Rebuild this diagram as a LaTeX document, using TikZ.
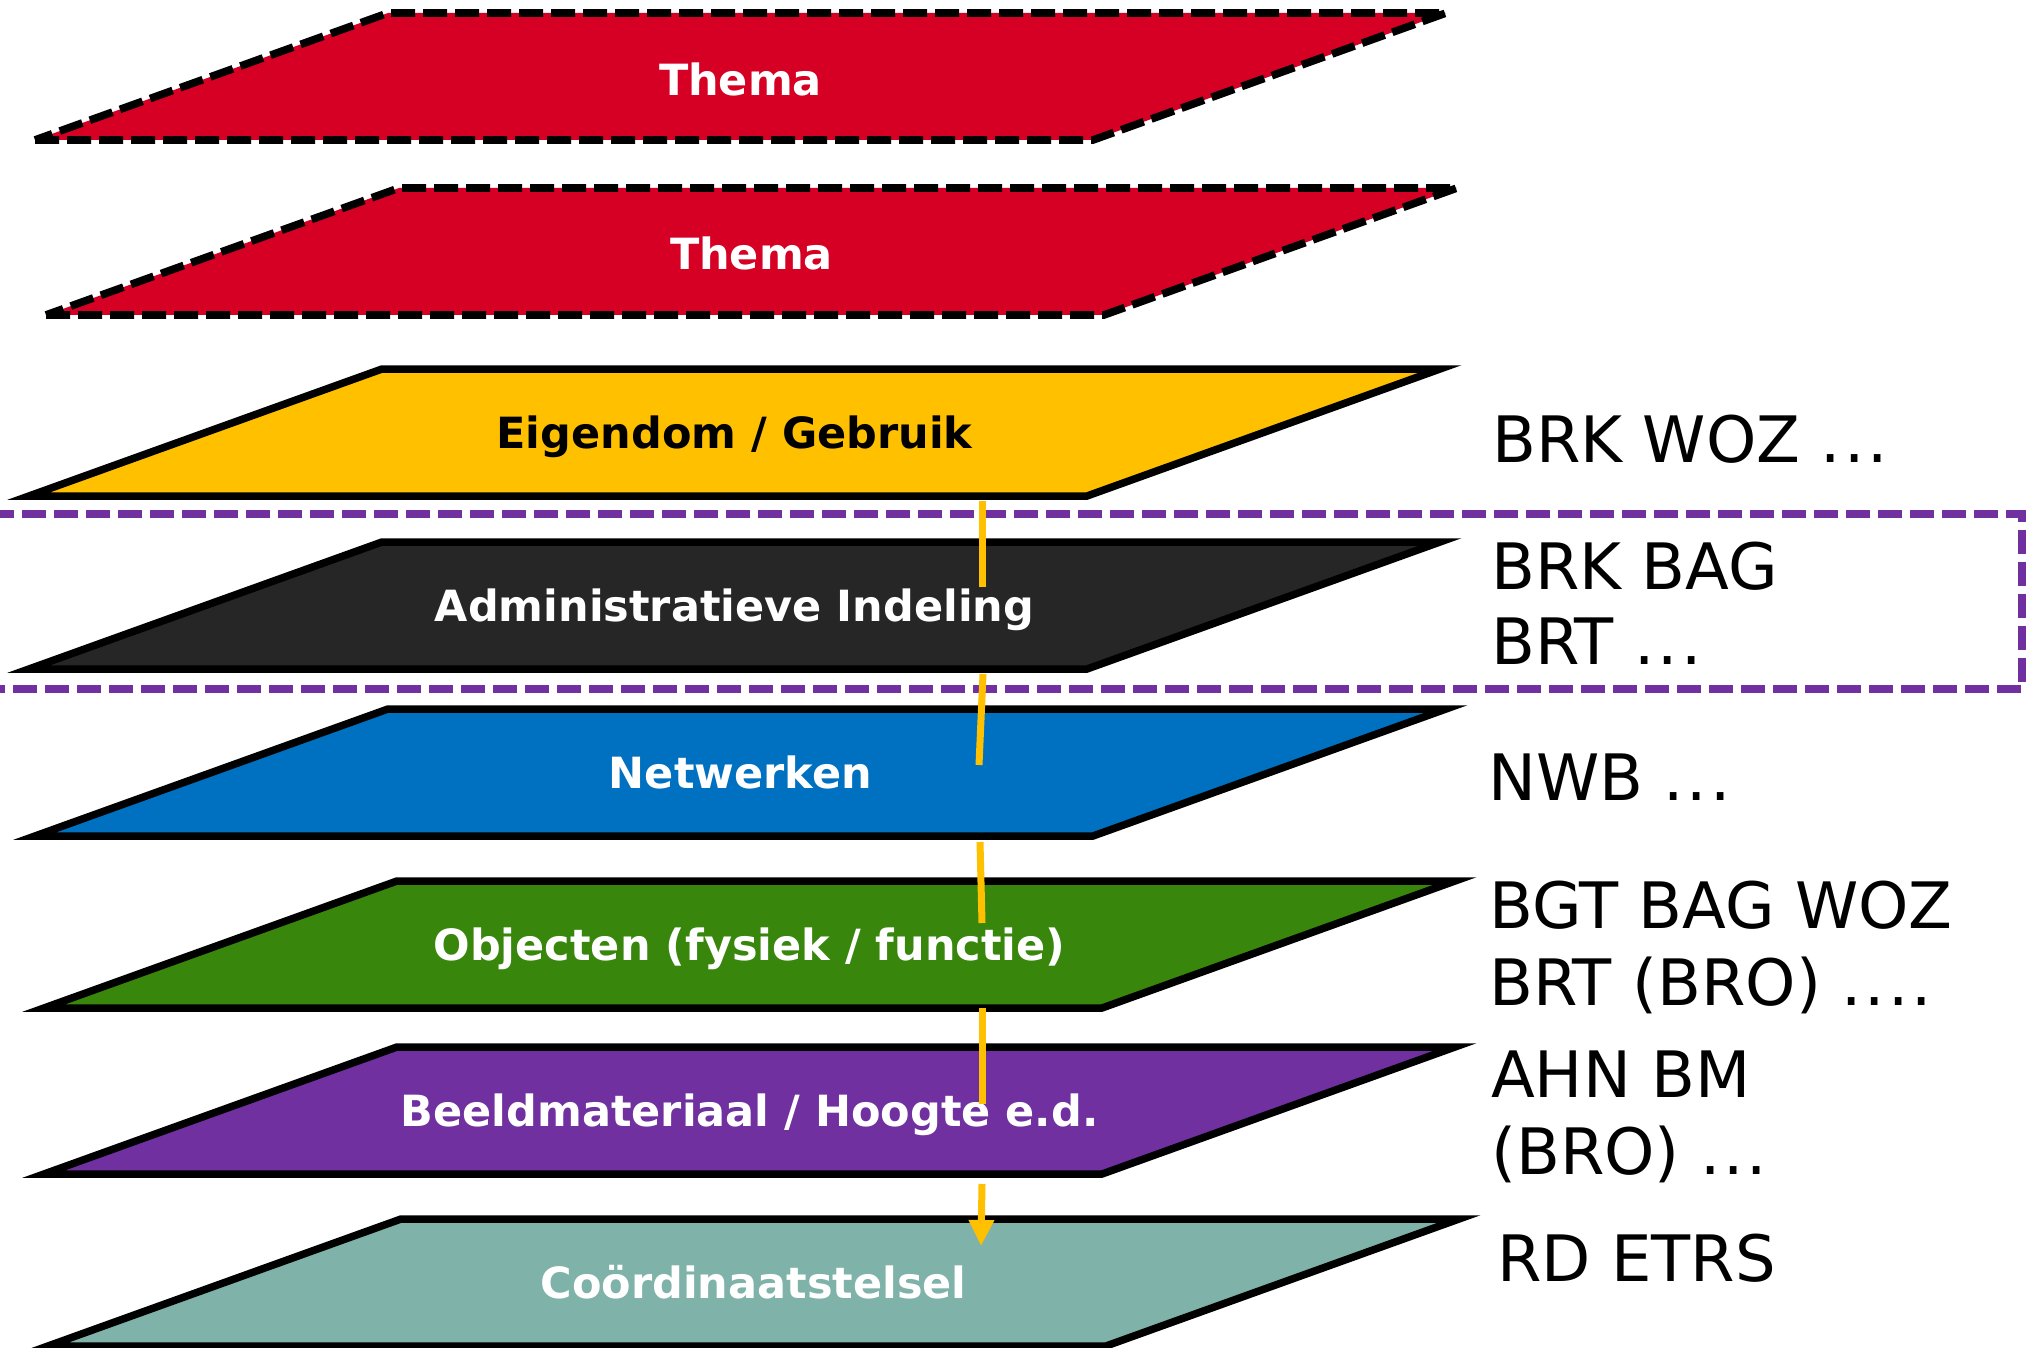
\documentclass[tikz,border=0pt]{standalone}
\usepackage{fontspec}
\setmainfont{DejaVu Sans}
\usetikzlibrary{arrows.meta}
\definecolor{themared}{HTML}{D50024}
\definecolor{eigyellow}{HTML}{FFC000}
\definecolor{admdark}{HTML}{262626}
\definecolor{netblue}{HTML}{0070C0}
\definecolor{objgreen}{HTML}{38870C}
\definecolor{beeldpurple}{HTML}{7030A0}
\definecolor{coordteal}{HTML}{7FB2A8}
\definecolor{arroworange}{HTML}{FFC000}
\definecolor{boxpurple}{HTML}{7030A0}
\newcommand{\dd}{.\kern3pt}
\tikzset{
  solidlayer/.style={draw=black, line width=7.5pt, line join=miter},
  themalayer/.style={fill=themared, draw=black, line width=7.7pt, line join=miter,
    dash pattern=on 24pt off 8pt},
  layerlabel/.style={anchor=base, font=\fontsize{43}{50}\selectfont\bfseries, inner sep=0pt},
  sidetext/.style={anchor=base west, font=\fontsize{64}{77}\selectfont, inner sep=0pt, text=black},
  orangeline/.style={draw=arroworange, line width=7pt},
  purpledash/.style={draw=boxpurple, line width=8pt, dash pattern=on 24pt off 8pt}
}
% #1 name, #2 xTL, #3 yTop, #4 shape style, #5 label colour, #6 label, #7 label shift
\newcommand{\drawlayer}[7]{%
  \path[#4] (#2-353,#3+127) -- (#2+705,#3+127) -- (#2+1058,#3) -- (#2,#3) -- cycle;
  \node[layerlabel, text=#5] (#1) at (#2+352.5,#3+63.5+15.3+#7) {#6};
}
\begin{document}
\begin{tikzpicture}[x=1pt,y=-1pt]
\useasboundingbox (0,0) rectangle (2029,1348);
\fill[white] (0,0) rectangle (2029,1348);

% purple dashed box (open on the left)
\draw[purpledash] (-10,514) -- (2022,514) -- (2022,689) -- (-10,689);

\drawlayer{thema1}{388}{13}{themalayer}{white}{Thema}{4}
\drawlayer{thema2}{399}{188}{themalayer}{white}{Thema}{3}
\drawlayer{eigendom}{382}{369}{solidlayer, fill=eigyellow}{black}{Eigendom / Gebruik}{1}
\drawlayer{admin}{382}{542}{solidlayer, fill=admdark}{white}{Administratieve Indeling}{1}
\drawlayer{netwerk}{388}{709}{solidlayer, fill=netblue}{white}{Netwerken}{1}
\drawlayer{objecten}{397}{881}{solidlayer, fill=objgreen}{white}{Objecten (fysiek / functie)}{1}
\drawlayer{beeld}{397}{1047}{solidlayer, fill=beeldpurple}{white}{Beeldmateriaal / Hoogte e.d.}{1}
\drawlayer{coord}{401}{1219}{solidlayer, fill=coordteal}{white}{Coördinaatstelsel}{1}

% orange connector, passing through the layers
\coordinate (o1a) at (982,501);  \coordinate (o1b) at (982,587);
\coordinate (o2a) at (983,674);  \coordinate (o2b) at (979,765);
\coordinate (o3a) at (980,842);  \coordinate (o3b) at (982,923);
\coordinate (o4a) at (982,1008); \coordinate (o4b) at (982,1104);
\coordinate (o5a) at (982,1184); \coordinate (o5b) at (981,1246);
\draw[orangeline] (o1a) -- (o1b);
\draw[orangeline] (o2a) -- (o2b);
\draw[orangeline] (o3a) -- (o3b);
\draw[orangeline] (o4a) -- (o4b);
\draw[orangeline, -{Triangle[length=26pt,width=24pt]}] (o5a) -- (o5b);

% side texts
\node[sidetext] (t1) at (1492,462) {BRK WOZ \dd\dd.};
\node[sidetext] (t2a) at (1491,589) {BRK BAG};
\node[sidetext] (t2b) at (1491,664) {BRT \dd\dd.};
\node[sidetext] (t3) at (1488,800) {NWB \dd\dd.};
\node[sidetext] (t4a) at (1489,928) {BGT BAG WOZ};
\node[sidetext] (t4b) at (1489,1005) {BRT (BRO) \dd\dd\dd.};
\node[sidetext] (t5a) at (1491,1097) {AHN BM};
\node[sidetext] (t5b) at (1491,1174) {(BRO) \dd\dd.};
\node[sidetext] (t6) at (1497,1281) {RD ETRS};
\end{tikzpicture}
\end{document}
